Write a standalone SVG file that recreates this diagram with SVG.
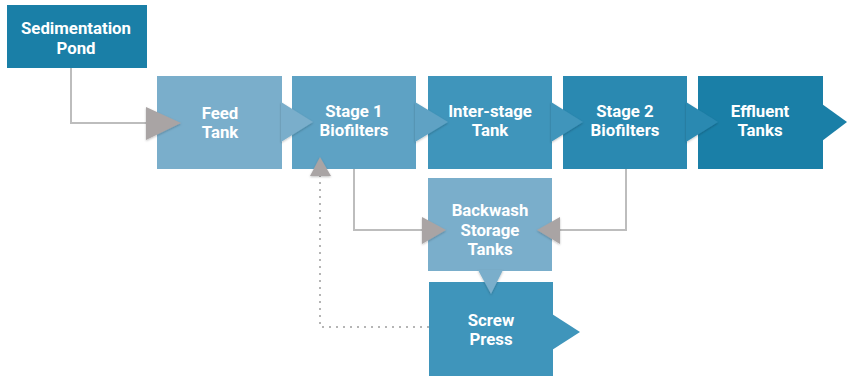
<svg xmlns="http://www.w3.org/2000/svg" width="848" height="376" viewBox="0 0 848 376">
<style>
  .lbl { font-family: Roboto, "Liberation Sans", Arial, sans-serif; font-weight: 700; font-size: 16.8px; fill: #ffffff; text-anchor: middle; }
  .ln { fill: none; stroke: #bdbdbd; stroke-width: 2; }
  .dot { fill: none; stroke: #b5b5b5; stroke-width: 2; stroke-dasharray: 2 5; }
  .ah { fill: #a9a4a4; }
  .c1 { fill: #1a7fa7; }
  .c2 { fill: #7aaecb; }
  .c3 { fill: #5ea2c4; }
  .c4 { fill: #3f95bb; }
  .c5 { fill: #2a89b1; }
</style>
<defs>
  <filter id="sh" x="-30%" y="-30%" width="160%" height="160%">
    <feDropShadow dx="0" dy="1" stdDeviation="1.2" flood-color="#000" flood-opacity="0.25"/>
  </filter>
</defs>
<rect width="848" height="376" fill="#ffffff"/>

<g id="connectors">
  <polyline class="ln" points="71,68 71,123 148,123"/>
  <polyline class="ln" points="354,169 354,230 424,230"/>
  <polyline class="ln" points="626,169 626,230 558,230"/>
  <polyline class="dot" points="429,327 320,327 320,176"/>
</g>

<g id="effluent-tanks">
  <rect class="c1" x="698" y="76" width="125" height="93"/>
  <polygon class="c1" points="822,104 847,122 822,141"/>
  <text class="lbl" x="760" y="117">Effluent</text>
  <text class="lbl" x="760" y="136">Tanks</text>
</g>

<g id="stage2-biofilters">
  <rect class="c5" x="563" y="76" width="124" height="93"/>
  <polygon class="c5" points="686,102 718,122 686,142" filter="url(#sh)"/>
  <text class="lbl" x="625" y="117">Stage 2</text>
  <text class="lbl" x="625" y="136">Biofilters</text>
</g>

<g id="inter-stage-tank">
  <rect class="c4" x="428" y="76" width="124" height="93"/>
  <polygon class="c4" points="551,102 583,122 551,142" filter="url(#sh)"/>
  <text class="lbl" x="490" y="117">Inter-stage</text>
  <text class="lbl" x="490" y="136">Tank</text>
</g>

<g id="stage1-biofilters">
  <rect class="c3" x="292" y="76" width="124" height="93"/>
  <polygon class="c3" points="415,102 448,122 415,142" filter="url(#sh)"/>
  <text class="lbl" x="354" y="117">Stage 1</text>
  <text class="lbl" x="354" y="136">Biofilters</text>
</g>

<g id="feed-tank">
  <rect class="c2" x="157" y="76" width="125" height="93"/>
  <polygon class="c2" points="281,102 313,122 281,142" filter="url(#sh)"/>
  <text class="lbl" x="220" y="119">Feed</text>
  <text class="lbl" x="220" y="138">Tank</text>
</g>

<g id="sedimentation-pond">
  <rect class="c1" x="7" y="5" width="140" height="63"/>
  <text class="lbl" x="76" y="34">Sedimentation</text>
  <text class="lbl" x="76" y="53.5">Pond</text>
</g>

<g id="screw-press">
  <rect class="c4" x="429" y="282" width="124" height="94"/>
  <polygon class="c4" points="552,314 580,332 552,350"/>
  <text class="lbl" x="491" y="326">Screw</text>
  <text class="lbl" x="491" y="345">Press</text>
</g>

<g id="backwash-storage-tanks">
  <rect class="c2" x="428" y="178" width="124" height="93"/>
  <polygon class="c2" points="478,270 503,270 491,294" filter="url(#sh)"/>
  <text class="lbl" x="490" y="216">Backwash</text>
  <text class="lbl" x="490" y="236">Storage</text>
  <text class="lbl" x="490" y="255">Tanks</text>
</g>

<g id="arrowheads">
  <polygon class="ah" points="146,107 181,123 146,140" filter="url(#sh)"/>
  <polygon class="ah" points="422,217 446,230 422,244" filter="url(#sh)"/>
  <polygon class="ah" points="560,217 537,230 560,244" filter="url(#sh)"/>
  <polygon class="ah" points="310,176 320,157 331,176" filter="url(#sh)"/>
</g>
</svg>
